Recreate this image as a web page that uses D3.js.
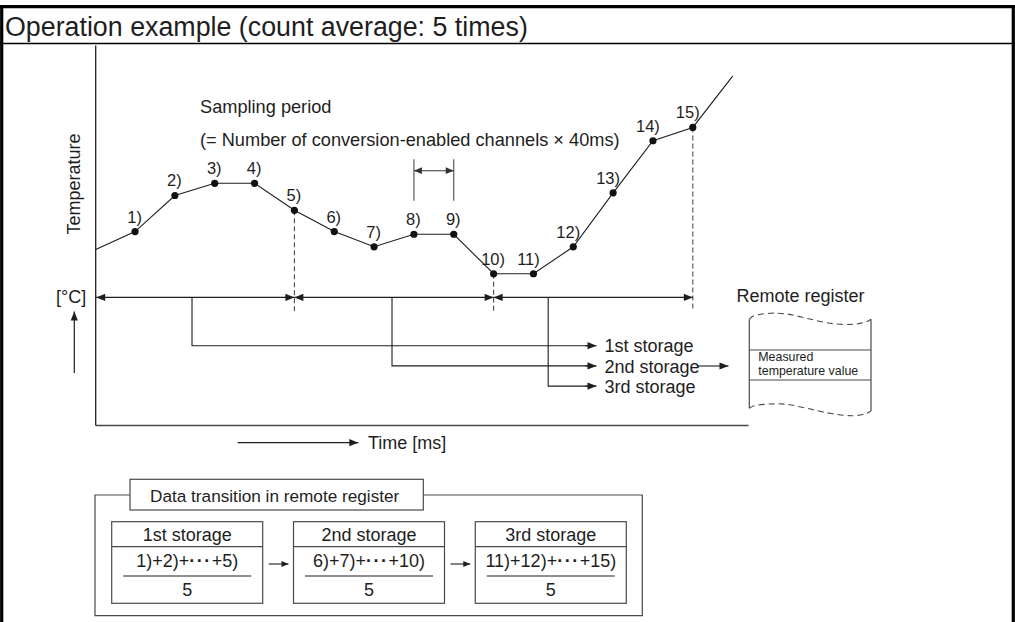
<!DOCTYPE html>
<html><head><meta charset="utf-8">
<script src="https://cdn.jsdelivr.net/npm/d3@7/dist/d3.min.js"></script>
<style>
body{margin:0;background:#fff}
text{font-family:"Liberation Sans",Arial,Helvetica,sans-serif;fill:#1e1e1e}
</style></head>
<body><svg id="c" width="1015" height="622"></svg>
<script>
// ---------- data ----------
const sampleLabels = ["1)","2)","3)","4)","5)","6)","7)","8)","9)","10)","11)","12)","13)","14)","15)"];
const sampleIndex  = [1,2,3,4,5,6,7,8,9,10,11,12,13,14,15];
const temperature  = [50.9,60.4,63.6,63.6,56.5,50.9,46.9,50.2,50.2,39.8,39.8,46.9,61.1,74.8,78.3];
const traceStartIndex = 0, traceStartTemp = 46.1;
const traceEndIndex = 16,  traceEndTemp = 91.8;
const countAverage = 5;
const storageNames = ["1st storage","2nd storage","3rd storage"];
const storageTapIndex = [2.43, 7.45, 11.37];
const storageNumerators = [["1)+2)+","+5)"],["6)+7)+","+10)"],["11)+12)+","+15)"]];
const titleText = "Operation example (count average: 5 times)";
const periodTexts = ["Sampling period","(= Number of conversion-enabled channels \u00D7 40ms)"];
const registerCellText = ["Measured","temperature value"];

// ---------- setup ----------
const svg = d3.select("#c");
const ink = "#1e1e1e", grey = "#4a4a4a";
const x = d3.scaleLinear().domain([0,15]).range([95.2,692.8]);
const y = d3.scaleLinear().domain([0,100]).range([425,45]);

function arrowHead(g, x2, y2, ang, col, len=9, w=3.6){
  const c=Math.cos(ang), s=Math.sin(ang);
  const bx=x2-len*c, by=y2-len*s;
  g.append("path").attr("d",`M${x2},${y2}L${bx - w*s},${by + w*c}L${bx + w*s},${by - w*c}Z`).attr("fill",col);
}
function arrow(g,x1,y1,x2,y2,opt={}){
  const col=opt.color||ink, sw=opt.width||1.1;
  g.append("line").attr("x1",x1).attr("y1",y1).attr("x2",x2).attr("y2",y2).attr("stroke",col).attr("stroke-width",sw);
  const ang=Math.atan2(y2-y1,x2-x1);
  arrowHead(g,x2,y2,ang,col,opt.len,opt.w);
  if(opt.both) arrowHead(g,x1,y1,ang+Math.PI,col,opt.len,opt.w);
}

// ---------- frame & title ----------
svg.append("line").attr("x1",0).attr("x2",1015).attr("y1",6.7).attr("y2",6.7).attr("stroke","#000").attr("stroke-width",3.2);
svg.append("line").attr("x1",1.7).attr("x2",1.7).attr("y1",5).attr("y2",622).attr("stroke","#000").attr("stroke-width",3.2);
svg.append("line").attr("x1",1013.3).attr("x2",1013.3).attr("y1",5).attr("y2",622).attr("stroke","#000").attr("stroke-width",3.2);
svg.append("line").attr("x1",0).attr("x2",1015).attr("y1",43.5).attr("y2",43.5).attr("stroke","#000").attr("stroke-width",1.6);
svg.append("text").attr("x",5).attr("y",35.5).attr("font-size",26.8).attr("fill","#111").text(titleText);

// ---------- axes ----------
const xAxisScale = x.copy().domain([0, x.invert(748)]).range([95.2,748]);
svg.append("g").attr("transform","translate(0,425)")
  .call(d3.axisBottom(xAxisScale).tickValues([]).tickSizeOuter(0))
  .select(".domain").attr("stroke",grey).attr("stroke-width",1.3);
svg.append("g").attr("transform","translate(95.2,0)")
  .call(d3.axisLeft(y).tickValues([]).tickSizeOuter(0))
  .select(".domain").attr("stroke",ink).attr("stroke-width",1.3);

svg.append("text").attr("transform","translate(80,184) rotate(-90)").attr("text-anchor","middle").attr("font-size",18).text("Temperature");
svg.append("text").attr("x",56).attr("y",302.5).attr("font-size",18).text("[\u00B0C]");
arrow(svg,74.3,373,74.3,311.5,{width:1.2});
arrow(svg,237.7,442.7,358.3,442.7,{width:1.2});
svg.append("text").attr("x",368).attr("y",448.5).attr("font-size",18).text("Time [ms]");

// ---------- trace ----------
const trace = [[traceStartIndex,traceStartTemp], ...sampleIndex.map((s,i)=>[s,temperature[i]]), [traceEndIndex,traceEndTemp]];
svg.append("path").datum(trace).attr("fill","none").attr("stroke",ink).attr("stroke-width",1.1)
  .attr("d", d3.line().x(d=>x(d[0])).y(d=>y(d[1])));

// dashed boundaries at every count-average end
const boundaries = sampleIndex.filter(s=>s%countAverage===0);
svg.selectAll("line.bound").data(boundaries).join("line").attr("class","bound")
  .attr("x1",d=>x(d)).attr("x2",d=>x(d)).attr("y1",d=>y(temperature[d-1])).attr("y2",311)
  .attr("stroke",grey).attr("stroke-width",1.1).attr("stroke-dasharray","5,3");

svg.selectAll("circle.pt").data(sampleIndex).join("circle").attr("class","pt")
  .attr("cx",d=>x(d)).attr("cy",(d,i)=>y(temperature[i])).attr("r",3.6).attr("fill","#111");
svg.selectAll("text.lbl").data(sampleIndex).join("text").attr("class","lbl")
  .attr("x",d=>x(d)+(d>10?-5:-0.5)).attr("y",(d,i)=>y(temperature[i])-9)
  .attr("text-anchor","middle").attr("font-size",16.5).text((d,i)=>sampleLabels[i]);

// sampling period bracket
periodTexts.forEach((t,i)=>svg.append("text").attr("x",200).attr("y",113.3+i*32.2).attr("font-size",18.2).text(t));
[8,9].forEach(s=>svg.append("line").attr("x1",x(s)).attr("x2",x(s)).attr("y1",159.3).attr("y2",200.7).attr("stroke",grey).attr("stroke-width",1.1));
arrow(svg,x(8),170.7,x(9),170.7,{both:true,color:"#333",len:8,w:3.4});

// storage spans
const rowY = 297.4;
const spans = [[0,5],[5,10],[10,15]];
spans.forEach(([a,b],i)=>{
  const xa = i===0 ? x(a)+1 : x(a);
  arrow(svg,xa,rowY,x(b),rowY,{both:true,width:1.1});
});
storageTapIndex.forEach((t,i)=>{
  const yy = 345.7 + i*20.2;
  svg.append("path").attr("d",`M${x(t)},${rowY}V${yy}H590`).attr("fill","none").attr("stroke",ink).attr("stroke-width",1.1);
  arrow(svg,585,yy,596.5,yy,{width:1.1});
  svg.append("text").attr("x",604.5).attr("y",yy+6.6).attr("font-size",18).text(storageNames[i]);
});
arrow(svg,697,366,728.5,366,{width:1.1});

// ---------- remote register ----------
svg.append("text").attr("x",736.5).attr("y",301.7).attr("font-size",18).text("Remote register");
const wave = d3.line().curve(d3.curveCatmullRom);
const topWave = [[749.3,319.3],[753.3,316],[770,313.3],[786.7,314],[806.7,318.3],[830,323.3],[853.3,324.3],[866.7,321.7],[871,319.3]];
const botWave = [[749.3,408.3],[753.3,406],[770,404],[786.7,404.3],[806.7,408.3],[830,413.3],[853.3,415.7],[866.7,413.3],[871,411]];
[topWave,botWave].forEach(w=>svg.append("path").attr("d",wave(w)).attr("fill","none").attr("stroke",grey).attr("stroke-width",1.1).attr("stroke-dasharray","6,4"));
svg.append("line").attr("x1",749.3).attr("x2",749.3).attr("y1",319.3).attr("y2",408.3).attr("stroke",grey).attr("stroke-width",1.2);
svg.append("line").attr("x1",871).attr("x2",871).attr("y1",319.3).attr("y2",411).attr("stroke",grey).attr("stroke-width",1.2);
[350,380].forEach(yy=>svg.append("line").attr("x1",749.3).attr("x2",871).attr("y1",yy).attr("y2",yy).attr("stroke",grey).attr("stroke-width",1.2));
registerCellText.forEach((t,i)=>svg.append("text").attr("x",758.3).attr("y",361.2+i*13.6).attr("font-size",12.4).text(t));

// ---------- data transition panel ----------
const pg = svg.append("g");
pg.append("path").attr("d","M130,495H95V615.7H642.3V495H423.3").attr("fill","none").attr("stroke",grey).attr("stroke-width",1.2);
pg.append("rect").attr("x",130).attr("y",479.3).attr("width",293.3).attr("height",30.7).attr("fill","#fff").attr("stroke",grey).attr("stroke-width",1.2);
pg.append("text").attr("x",150).attr("y",501.5).attr("font-size",17.2).text("Data transition in remote register");
const boxX = d3.scaleLinear().domain([0,1]).range([111.7,293.5]);
storageNames.forEach((nm,i)=>{
  const bx = boxX(i), bw = 151, cx = bx+bw/2;
  pg.append("rect").attr("x",bx).attr("y",521.7).attr("width",bw).attr("height",81.6).attr("fill","none").attr("stroke",grey).attr("stroke-width",1.2);
  pg.append("line").attr("x1",bx).attr("x2",bx+bw).attr("y1",546.7).attr("y2",546.7).attr("stroke",grey).attr("stroke-width",1.2);
  pg.append("text").attr("x",cx).attr("y",541).attr("text-anchor","middle").attr("font-size",18).text(nm);
  const t = pg.append("text").attr("x",cx).attr("y",567).attr("text-anchor","middle").attr("font-size",18);
  t.append("tspan").text(storageNumerators[i][0]);
  t.append("tspan").attr("font-weight","bold").attr("letter-spacing",1.5).text("\u00B7\u00B7\u00B7");
  t.append("tspan").text(storageNumerators[i][1]);
  pg.append("line").attr("x1",cx-64).attr("x2",cx+64).attr("y1",576).attr("y2",576).attr("stroke",ink).attr("stroke-width",1.2);
  pg.append("text").attr("x",cx).attr("y",596).attr("text-anchor","middle").attr("font-size",18).text(String(countAverage));
  if(i<2) arrow(pg,bx+bw+6,564,boxX(i+1)-5,564,{width:1.1,len:7,w:3});
});
</script></body></html>
